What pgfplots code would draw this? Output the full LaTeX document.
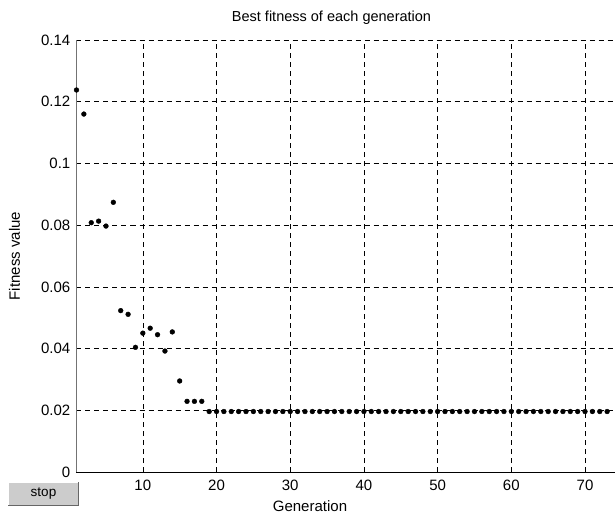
\documentclass[border=0pt]{standalone}
\usepackage{fontspec}
\setmainfont{Liberation Sans}
\usepackage{pgfplots}
\pgfplotsset{compat=1.18}
\begin{document}
\begin{tikzpicture}
\path[use as bounding box] (-76.5pt,-43pt) rectangle (538.5pt,472pt);
\begin{axis}[
    at={(0,0)}, anchor=south west,
    scale only axis, width=538pt, height=432pt,
    xmin=1, xmax=74, ymin=0, ymax=0.14,
    axis x line*=bottom, axis y line*=left,
    x axis line style={black, line width=0.7pt},
    y axis line style={black!55, line width=0.7pt},
    xtick={10,20,30,40,50,60,70},
    ytick={0,0.02,0.04,0.06,0.08,0.1,0.12,0.14},
    tick align=inside, major tick length=5pt,
    tick style={black, line width=0.6pt},
    grid=major,
    grid style={black, dash pattern=on 5pt off 4pt, line width=0.6pt},
    /pgf/number format/assume math mode=true,
    yticklabel style={/pgf/number format/fixed, /pgf/number format/precision=2,
        anchor=east, inner sep=0pt, xshift=-6pt},
    xticklabel style={anchor=north, inner sep=0pt, yshift=-8pt},
    ticklabel style={font=\fontsize{15}{18}\selectfont},
    title={Best fitness of each generation},
    title style={at={(axis description cs:0.474,1.0278)}, anchor=base,
        inner sep=0pt, font=\fontsize{14.5}{17}\selectfont},
    xlabel={Generation},
    xlabel style={at={(axis description cs:0.434,-0.0903)}, anchor=base,
        inner sep=0pt, font=\fontsize{15}{18}\selectfont},
    ylabel={Fitness value},
    ylabel style={at={(axis description cs:-0.115,0.5)}, anchor=center,
        rotate=0, inner sep=0pt, font=\fontsize{15}{18}\selectfont},
    clip=false,
]
\addplot[only marks, mark=*, mark size=2.4pt, mark options={fill=black, draw=black}] coordinates {
    (1,0.1238) (2,0.1160) (3,0.0808) (4,0.0813) (5,0.0797) (6,0.0874)
    (7,0.0523) (8,0.0511) (9,0.0404) (10,0.0450) (11,0.0466) (12,0.0445)
    (13,0.0392) (14,0.0454) (15,0.0295) (16,0.0229) (17,0.0229) (18,0.0229)
    (19,0.0196) (20,0.0196) (21,0.0196) (22,0.0196) (23,0.0196) (24,0.0196)
    (25,0.0196) (26,0.0196) (27,0.0196) (28,0.0196) (29,0.0196) (30,0.0196)
    (31,0.0196) (32,0.0196) (33,0.0196) (34,0.0196) (35,0.0196) (36,0.0196)
    (37,0.0196) (38,0.0196) (39,0.0196) (40,0.0196) (41,0.0196) (42,0.0196)
    (43,0.0196) (44,0.0196) (45,0.0196) (46,0.0196) (47,0.0196) (48,0.0196)
    (49,0.0196) (50,0.0196) (51,0.0196) (52,0.0196) (53,0.0196) (54,0.0196)
    (55,0.0196) (56,0.0196) (57,0.0196) (58,0.0196) (59,0.0196) (60,0.0196)
    (61,0.0196) (62,0.0196) (63,0.0196) (64,0.0196) (65,0.0196) (66,0.0196)
    (67,0.0196) (68,0.0196) (69,0.0196) (70,0.0196) (71,0.0196) (72,0.0196)
    (73,0.0196)
};
\end{axis}
% stop button of the GA window
\fill[black!20] (-68.5pt,-34pt) rectangle (2.5pt,-9.5pt);
\draw[white, line width=1pt] (-68pt,-33.5pt) -- (-68pt,-10pt) -- (2pt,-10pt);
\draw[black!60, line width=1pt] (-68pt,-33.5pt) -- (2pt,-33.5pt) -- (2pt,-10pt);
\node[font=\fontsize{13.5}{16}\selectfont] at (-33pt,-22pt) {stop};
\end{tikzpicture}
\end{document}
